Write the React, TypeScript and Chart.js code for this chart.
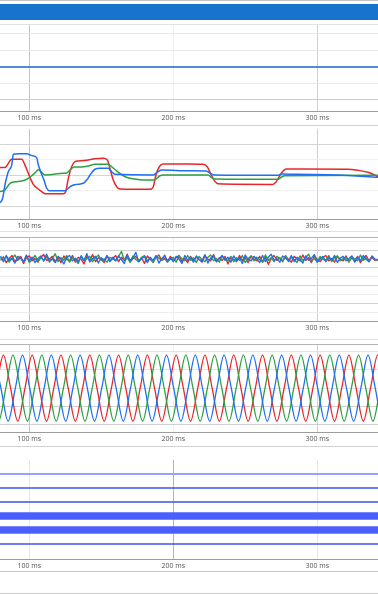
import React, { useEffect, useRef } from 'react';
import { Chart, registerables } from 'chart.js';
Chart.register(...registerables);

// ---------- shared axis ----------
const X_MIN = 79.65;
const X_MAX = 342.2;
const X_TICKS = [100, 200, 300];
const AXIS_H = 14;
const RED = '#e8262a';
const GREEN = '#2ea043';
const BLUE = '#1f6ff2';

// ---------- panel 1 (flat line) ----------
const P1_T = [79.65, 342.2];
const P1_V = [2, 2];
const P1_Y_TICKS = [0, 1, 2, 3, 4];

// ---------- panel 2 (rms steps) ----------
const RED_T = [79.65, 83.1, 87.8, 94.7, 97.0, 100.0, 102.8, 105.1, 108.6, 110.9, 123.6, 125.3, 127.1, 129.4, 131.7, 134.0, 139.9, 145.6, 151.4, 154.2, 156.0, 158.3, 160.7, 163.0, 183.8, 186.1, 188.0, 190.3, 193.1, 210.2, 220.6, 223.6, 225.3, 227.6, 231.0, 269.2, 271.5, 275.0, 278.5, 321.3, 328.3, 335.3, 339.9, 342.2];
const RED_V = [2.50, 2.50, 3.02, 3.02, 2.65, 1.96, 1.40, 1.18, 0.93, 0.80, 0.80, 0.93, 1.79, 2.54, 2.87, 2.91, 2.96, 3.06, 3.09, 2.98, 2.44, 1.68, 1.25, 1.10, 1.08, 1.25, 2.01, 2.54, 2.72, 2.72, 2.70, 2.54, 2.22, 1.79, 1.44, 1.40, 1.57, 2.12, 2.39, 2.38, 2.31, 2.18, 2.01, 1.88];
const GREEN_T = [79.65, 83.1, 86.6, 90.1, 94.7, 98.2, 101.7, 104.7, 106.3, 108.6, 110.9, 123.6, 126.0, 128.3, 131.0, 136.4, 141.0, 145.6, 154.9, 157.2, 160.7, 165.3, 169.9, 176.9, 186.1, 188.5, 190.8, 193.1, 224.1, 226.4, 228.7, 272.7, 275.0, 277.4, 342.2];
const GREEN_V = [0.93, 1.04, 1.47, 1.57, 1.62, 1.73, 1.96, 2.22, 2.35, 2.18, 2.01, 2.12, 2.14, 2.33, 2.52, 2.52, 2.59, 2.70, 2.70, 2.54, 2.27, 1.96, 1.79, 1.70, 1.68, 1.79, 1.96, 2.01, 2.01, 1.86, 1.75, 1.73, 1.86, 1.96, 1.99];
const BLUE_T = [79.65, 81.5, 83.1, 85.4, 87.8, 88.9, 92.4, 98.2, 101.7, 105.1, 106.3, 107.9, 110.2, 112.1, 113.9, 124.8, 127.1, 129.4, 132.9, 137.5, 139.9, 142.2, 145.6, 149.1, 154.9, 157.2, 159.5, 186.1, 188.5, 191.9, 211.6, 222.9, 226.4, 228.7, 272.7, 275.0, 286.6, 314.4, 342.2];
const BLUE_V = [0.21, 0.50, 1.36, 2.22, 2.65, 3.35, 3.39, 3.39, 3.26, 3.13, 2.65, 2.22, 1.68, 1.15, 0.99, 0.99, 1.15, 1.31, 1.40, 1.47, 1.68, 2.01, 2.38, 2.44, 2.44, 2.22, 2.05, 2.01, 2.16, 2.33, 2.28, 2.27, 2.07, 2.01, 1.99, 2.07, 2.05, 2.01, 1.86];
const P2_Y_TICKS = [0, 1, 2, 3, 4];

// ---------- panel 3 (noise) ----------
const NOISE_T = [80, 82, 84, 86, 88, 90, 92, 94, 96, 98, 100, 102, 104, 106, 108, 110, 112, 114, 116, 118, 120, 122, 124, 126, 128, 130, 132, 134, 136, 138, 140, 142, 144, 146, 148, 150, 152, 154, 156, 158, 160, 162, 164, 166, 168, 170, 172, 174, 176, 178, 180, 182, 184, 186, 188, 190, 192, 194, 196, 198, 200, 202, 204, 206, 208, 210, 212, 214, 216, 218, 220, 222, 224, 226, 228, 230, 232, 234, 236, 238, 240, 242, 244, 246, 248, 250, 252, 254, 256, 258, 260, 262, 264, 266, 268, 270, 272, 274, 276, 278, 280, 282, 284, 286, 288, 290, 292, 294, 296, 298, 300, 302, 304, 306, 308, 310, 312, 314, 316, 318, 320, 322, 324, 326, 328, 330, 332, 334, 336, 338, 340, 342];
const NOISE_BLUE = [
  7.35, 6.70, 7.40, 6.85, 7.10, 6.55, 7.30, 7.10, 6.65, 7.45, 6.80, 7.20, 6.60, 7.05, 7.35, 6.75, 7.55, 6.85, 7.00, 6.60,
  7.30, 7.00, 6.45, 7.20, 7.40, 6.80, 7.10, 6.70, 7.35, 6.85, 7.60, 6.65, 7.05, 7.30, 6.55, 7.15, 6.85, 7.40, 6.70, 7.20,
  6.80, 7.35, 6.95, 6.50, 7.45, 6.85, 7.15, 7.75, 6.70, 7.05, 7.30, 6.60, 7.20, 6.85, 7.40, 6.55, 7.05, 7.35, 6.80, 7.15,
  6.70, 7.30, 7.00, 6.50, 7.40, 6.85, 7.20, 6.65, 7.35, 6.95, 6.80, 7.50, 6.55, 7.10, 7.30, 6.70, 7.05, 7.40, 6.85, 7.20,
  6.65, 7.35, 6.85, 7.15, 6.50, 7.45, 6.95, 6.80, 7.30, 7.00, 6.60, 7.40, 6.70, 7.20, 7.55, 6.85, 7.05, 6.65, 7.35, 7.10,
  6.80, 7.40, 6.70, 7.20, 6.95, 6.55, 7.35, 6.85, 7.10, 7.50, 6.65, 7.00, 7.30, 6.70, 7.20, 6.85, 7.40, 6.60, 7.10, 7.30,
  6.80, 7.05, 7.35, 6.65, 7.20, 6.85, 7.40, 6.95, 6.70, 7.30, 7.00, 6.85];
const NOISE_RED = [
  6.85, 7.25, 6.60, 7.05, 7.40, 6.70, 6.95, 7.30, 6.50, 7.15, 7.35, 6.80, 7.05, 6.65, 7.20, 7.50, 6.85, 7.00, 7.30, 6.70,
  7.15, 6.60, 7.35, 6.95, 6.80, 7.40, 6.65, 7.20, 7.00, 6.45, 7.30, 6.85, 7.50, 6.70, 7.15, 6.95, 6.60, 7.35, 6.80, 7.05,
  7.40, 6.70, 7.20, 6.85, 7.55, 6.65, 7.05, 7.30, 6.80, 7.15, 6.50, 7.35, 6.95, 6.70, 7.20, 7.45, 6.85, 7.05, 6.65, 7.30,
  6.80, 7.15, 7.40, 6.70, 7.05, 6.60, 7.30, 6.85, 7.20, 6.95, 6.65, 7.35, 7.00, 6.80, 7.50, 6.70, 7.15, 6.85, 7.30, 6.45,
  7.20, 6.95, 6.70, 7.40, 6.85, 7.15, 6.60, 7.35, 7.00, 6.80, 7.30, 6.65, 7.20, 6.40, 7.05, 7.40, 6.85, 7.15, 6.70, 7.35,
  6.95, 6.65, 7.30, 7.00, 6.80, 7.45, 6.85, 7.15, 6.60, 7.35, 6.95, 6.70, 7.20, 7.40, 6.80, 7.05, 6.65, 7.30, 6.95, 6.80,
  7.35, 6.70, 7.15, 6.85, 7.30, 6.60, 7.05, 7.40, 6.80, 7.20, 6.85, 7.00];
const NOISE_GREEN = [
  7.15, 6.80, 7.30, 6.65, 7.05, 7.45, 6.85, 7.15, 6.70, 7.35, 6.60, 6.95, 7.40, 6.80, 7.20, 6.85, 7.30, 6.65, 7.05, 7.60,
  6.70, 7.15, 6.85, 7.40, 6.65, 7.20, 6.95, 6.50, 7.35, 6.80, 7.05, 7.30, 6.70, 7.15, 7.45, 6.85, 7.00, 6.65, 7.20, 7.05,
  6.80, 7.30, 7.85, 6.85, 7.15, 6.65, 7.35, 6.95, 6.70, 7.20, 7.40, 6.80, 7.05, 6.60, 7.30, 7.10, 6.85, 7.45, 6.70, 6.95,
  7.20, 6.65, 7.35, 7.05, 6.80, 7.40, 6.85, 7.15, 6.60, 7.30, 6.95, 6.70, 7.20, 7.45, 6.80, 7.05, 6.65, 7.35, 6.95, 6.85,
  7.30, 6.70, 7.15, 6.85, 7.40, 6.60, 7.05, 7.35, 6.80, 7.20, 6.95, 6.65, 7.45, 6.85, 7.15, 6.70, 7.30, 7.05, 6.80, 7.40,
  6.70, 7.20, 6.95, 6.60, 7.35, 6.85, 7.15, 7.55, 6.80, 7.05, 6.65, 7.30, 6.95, 6.85, 7.40, 6.70, 7.15, 7.35, 6.80, 7.05,
  7.20, 6.65, 7.30, 6.95, 6.80, 7.45, 6.85, 7.15, 6.70, 7.35, 6.95, 6.85];
const P3_Y_TICKS = [1, 2, 3, 4, 5, 6, 7, 8, 9];

// ---------- panel 4 (three-phase waveform) ----------
const RED_SINE_T = [72, 77, 82, 87, 92, 97, 102, 107, 112, 117, 122, 127, 132, 137, 142, 147, 152, 157, 162, 167, 172, 177, 182, 187, 192, 197, 202, 207, 212, 217, 222, 227, 232, 237, 242, 247, 252, 257, 262, 267, 272, 277, 282, 287, 292, 297, 302, 307, 312, 317, 322, 327, 332, 337, 342, 347];
const RED_SINE_V = [-180, 0, 180, 0, -180, 0, 180, 0, -180, 0, 180, 0, -180, 0, 180, 0, -180, 0, 180, 0, -180, 0, 180, 0, -180, 0, 180, 0, -180, 0, 180, 0, -180, 0, 180, 0, -180, 0, 180, 0, -180, 0, 180, 0, -180, 0, 180, 0, -180, 0, 180, 0, -180, 0, 180, 0];
const GREEN_SINE_T = [73.7, 78.7, 83.7, 88.7, 93.7, 98.7, 103.7, 108.7, 113.7, 118.7, 123.7, 128.7, 133.7, 138.7, 143.7, 148.7, 153.7, 158.7, 163.7, 168.7, 173.7, 178.7, 183.7, 188.7, 193.7, 198.7, 203.7, 208.7, 213.7, 218.7, 223.7, 228.7, 233.7, 238.7, 243.7, 248.7, 253.7, 258.7, 263.7, 268.7, 273.7, 278.7, 283.7, 288.7, 293.7, 298.7, 303.7, 308.7, 313.7, 318.7, 323.7, 328.7, 333.7, 338.7, 343.7, 348.7];
const GREEN_SINE_V = [0, -180, 0, 180, 0, -180, 0, 180, 0, -180, 0, 180, 0, -180, 0, 180, 0, -180, 0, 180, 0, -180, 0, 180, 0, -180, 0, 180, 0, -180, 0, 180, 0, -180, 0, 180, 0, -180, 0, 180, 0, -180, 0, 180, 0, -180, 0, 180, 0, -180, 0, 180, 0, -180, 0, 180];
const BLUE_SINE_T = [75.3, 80.3, 85.3, 90.3, 95.3, 100.3, 105.3, 110.3, 115.3, 120.3, 125.3, 130.3, 135.3, 140.3, 145.3, 150.3, 155.3, 160.3, 165.3, 170.3, 175.3, 180.3, 185.3, 190.3, 195.3, 200.3, 205.3, 210.3, 215.3, 220.3, 225.3, 230.3, 235.3, 240.3, 245.3, 250.3, 255.3, 260.3, 265.3, 270.3, 275.3, 280.3, 285.3, 290.3, 295.3, 300.3, 305.3, 310.3, 315.3, 320.3, 325.3, 330.3, 335.3, 340.3, 345.3, 350.3];
const BLUE_SINE_V = [180, 0, -180, 0, 180, 0, -180, 0, 180, 0, -180, 0, 180, 0, -180, 0, 180, 0, -180, 0, 180, 0, -180, 0, 180, 0, -180, 0, 180, 0, -180, 0, 180, 0, -180, 0, 180, 0, -180, 0, 180, 0, -180, 0, 180, 0, -180, 0, 180, 0, -180, 0, 180, 0, -180, 0];
const P4_Y_TICKS = [-200, -100, 0, 100, 200];

// ---------- panel 5 (digital channels) ----------
const DIGITAL_T = [79.65, 342.2];
const DIGITAL_LEVELS = [6, 5, 4, 3, 2, 1];

const pts = (t: number[], v: number[]) => t.map((x, i) => ({ x, y: v[i] }));

function makeOptions(o: {
  yMin: number; yMax: number; yTicks: number[];
  yGrid: (v: number) => string; xGrid: (v: number) => string; showYGrid?: boolean;
}): any {
  return {
    animation: false,
    responsive: false,
    maintainAspectRatio: false,
    events: [],
    layout: { padding: 0 },
    plugins: { legend: { display: false }, tooltip: { enabled: false } },
    elements: { point: { radius: 0 }, line: { borderJoinStyle: 'round', cubicInterpolationMode: 'monotone' } },
    scales: {
      x: {
        type: 'linear', min: X_MIN, max: X_MAX,
        afterBuildTicks: (s: any) => { s.ticks = X_TICKS.map((v) => ({ value: v })); },
        afterFit: (s: any) => { s.height = AXIS_H; },
        ticks: {
          callback: (v: any) => `${v} ms`, color: '#555', padding: 3,
          font: { family: 'Open Sans', size: 7 }, maxRotation: 0, autoSkip: false,
        },
        grid: { drawTicks: false, color: (c: any) => o.xGrid(c.tick ? c.tick.value : 0) },
        border: { color: '#9c9c9c' },
      },
      y: {
        type: 'linear', min: o.yMin, max: o.yMax,
        afterBuildTicks: (s: any) => { s.ticks = o.yTicks.map((v) => ({ value: v })); },
        afterFit: (s: any) => { s.width = 0; },
        ticks: { display: false },
        grid: { display: o.showYGrid !== false, drawTicks: false, color: (c: any) => o.yGrid(c.tick ? c.tick.value : 0) },
        border: { display: false },
      },
    },
  };
}

const xGridNormal = (v: number) => (v === 200 ? '#f0f0f0' : v === 100 ? '#c4c4c4' : '#d0d0d0');
const xGridDigital = (v: number) => (v === 200 ? '#b4b4b4' : '#e6e6e6');

const PANELS = [
  { top: 24, h: 87 },
  { top: 129, h: 90 },
  { top: 237, h: 84 },
  { top: 344, h: 88 },
  { top: 460, h: 99 },
];

const LINES: { y: number; c: string }[] = [
  { y: 0, c: '#c2c2c2' },
  { y: 24, c: '#e2e2e2' },
  { y: 125, c: '#d2d2d2' },
  { y: 231, c: '#e0e0e0' },
  { y: 237, c: '#b4b4b4' },
  { y: 339, c: '#e0e0e0' },
  { y: 344, c: '#b4b4b4' },
  { y: 446, c: '#d2d2d2' },
  { y: 571, c: '#c4c4c4' },
  { y: 593, c: '#cccccc' },
];

export default function App() {
  const refs = [useRef<HTMLCanvasElement>(null), useRef<HTMLCanvasElement>(null), useRef<HTMLCanvasElement>(null), useRef<HTMLCanvasElement>(null), useRef<HTMLCanvasElement>(null)];

  useEffect(() => {
    const charts: Chart[] = [];
    const c = refs.map((r) => r.current as HTMLCanvasElement);

    charts.push(new Chart(c[0], {
      type: 'line',
      data: { datasets: [{ data: pts(P1_T, P1_V), borderColor: '#1a6bd0', borderWidth: 1.5 }] },
      options: makeOptions({
        yMin: -0.667, yMax: 4.606, yTicks: P1_Y_TICKS,
        yGrid: (v) => (v === 0 ? '#cdcdcd' : '#e8e8e8'), xGrid: xGridNormal,
      }),
    } as any));

    charts.push(new Chart(c[1], {
      type: 'line',
      data: {
        datasets: [
          { data: pts(BLUE_T, BLUE_V), borderColor: BLUE, borderWidth: 1.5 },
          { data: pts(GREEN_T, GREEN_V), borderColor: GREEN, borderWidth: 1.5 },
          { data: pts(RED_T, RED_V), borderColor: RED, borderWidth: 1.5 },
        ],
      },
      options: makeOptions({
        yMin: -0.841, yMax: 4.984, yTicks: P2_Y_TICKS,
        yGrid: (v) => (v % 2 === 0 ? '#d4d4d4' : '#efefef'), xGrid: xGridNormal,
      }),
    } as any));

    charts.push(new Chart(c[2], {
      type: 'line',
      data: {
        labels: NOISE_T,
        datasets: [
          { data: NOISE_BLUE, borderColor: BLUE, borderWidth: 1.4, cubicInterpolationMode: 'default', tension: 0 },
          { data: NOISE_GREEN, borderColor: GREEN, borderWidth: 1.4, cubicInterpolationMode: 'default', tension: 0 },
          { data: NOISE_RED, borderColor: RED, borderWidth: 1.4, cubicInterpolationMode: 'default', tension: 0 },
        ],
      },
      options: makeOptions({
        yMin: 0, yMax: 9.49, yTicks: P3_Y_TICKS,
        yGrid: (v) => (v % 2 === 0 ? '#d0d0d0' : '#ededed'), xGrid: xGridNormal,
      }),
    } as any));

    charts.push(new Chart(c[3], {
      type: 'line',
      data: {
        datasets: [
          { data: pts(BLUE_SINE_T, BLUE_SINE_V), borderColor: BLUE, borderWidth: 1.3 },
          { data: pts(GREEN_SINE_T, GREEN_SINE_V), borderColor: GREEN, borderWidth: 1.3 },
          { data: pts(RED_SINE_T, RED_SINE_V), borderColor: RED, borderWidth: 1.3 },
        ],
      },
      options: makeOptions({
        yMin: -238.7, yMax: 240.9, yTicks: P4_Y_TICKS,
        yGrid: (v) => (v < 0 ? '#d0d0d0' : '#e4e4e4'), xGrid: xGridNormal,
      }),
    } as any));

    const dColors = ['#95a3fb', '#3d52e6', '#3d52e6', '#4b5fff', '#4b5fff', '#3d52e6'];
    const dWidths = [2, 1.5, 1.5, 7.5, 7.5, 1.5];
    charts.push(new Chart(c[4], {
      type: 'line',
      data: {
        datasets: DIGITAL_LEVELS.map((lvl, i) => ({
          data: pts(DIGITAL_T, DIGITAL_T.map(() => lvl)),
          borderColor: dColors[i], borderWidth: dWidths[i], borderCapStyle: 'butt',
        })),
      },
      options: makeOptions({
        yMin: -0.071, yMax: 7.0, yTicks: [0], showYGrid: false,
        yGrid: () => '#ffffff', xGrid: xGridDigital,
      }),
    } as any));

    return () => charts.forEach((ch) => ch.destroy());
  }, []);

  return (
    <div style={{ position: 'fixed', left: 0, top: 0, width: 378, height: 594, background: '#fff', overflow: 'hidden' }}>
      <div style={{ position: 'absolute', left: 0, top: 4, width: 378, height: 16, background: '#1873cc' }} />
      {PANELS.map((p, i) => (
        <canvas
          key={i}
          ref={refs[i]}
          width={378}
          height={p.h + AXIS_H}
          style={{ position: 'absolute', left: 0, top: p.top, width: 378, height: p.h + AXIS_H, display: 'block' }}
        />
      ))}
      {LINES.map((l, i) => (
        <div key={'l' + i} style={{ position: 'absolute', left: 0, top: l.y, width: 378, height: 1, background: l.c }} />
      ))}
    </div>
  );
}
